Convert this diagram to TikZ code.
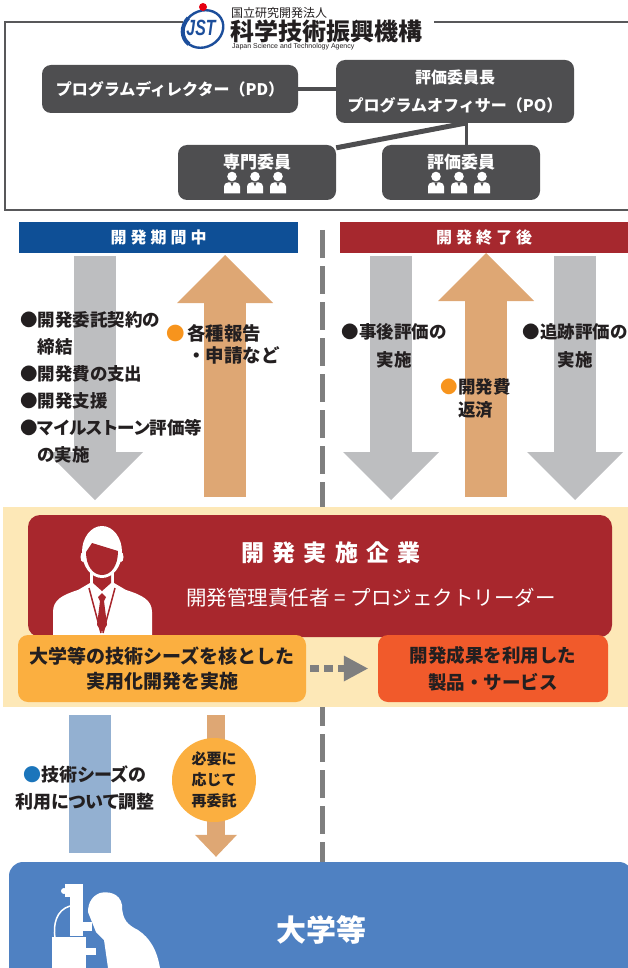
\documentclass[tikz,border=0pt]{standalone}
\usepackage{fontspec}
\setmainfont{Noto Sans CJK JP}
\newfontfamily\latinfont{Liberation Sans}
\usetikzlibrary{arrows.meta}

\definecolor{boxgray}{HTML}{4E4E50}
\definecolor{framegray}{HTML}{58585A}
\definecolor{jstblue}{HTML}{1C4E9B}
\definecolor{jstred}{HTML}{E60012}
\definecolor{periodblue}{HTML}{0E4F96}
\definecolor{afterred}{HTML}{A6282E}
\definecolor{arrowgray}{HTML}{BDBEC0}
\definecolor{arrowtan}{HTML}{DEA774}
\definecolor{dashgray}{HTML}{7F7F7F}
\definecolor{bandyellow}{HTML}{FDE8B7}
\definecolor{firmred}{HTML}{A8272D}
\definecolor{seedorange}{HTML}{FBAF40}
\definecolor{productorange}{HTML}{F15A2B}
\definecolor{barblue}{HTML}{93B0D1}
\definecolor{uniblue}{HTML}{4F81C2}
\definecolor{textdark}{HTML}{231F20}
\definecolor{dotorange}{HTML}{F7941D}
\definecolor{dotblue}{HTML}{1B75BB}

\tikzset{
    orgbox/.style={fill=boxgray, rounded corners=9pt, inner sep=0pt, text=white,
        align=center, font=\fontsize{16}{28}\selectfont\bfseries},
    orgline/.style={draw=boxgray, line width=4pt},
    header/.style={inner sep=0pt, minimum height=31pt, text=white,
        font=\fontsize{16}{20}\selectfont\bfseries\addfontfeature{LetterSpace=25}},
    fatarrow/.style={line width=42pt, -{Triangle[length=48pt,width=96pt,line width=0pt]}},
    note/.style={inner sep=0pt, text=textdark,
        font=\fontsize{17.5}{27}\selectfont\bfseries\addfontfeature{RawFeature=+palt}},
    member/.pic={
        \fill[white] (0,-6) circle (4.8);
        \fill[white] (-8,11) [rounded corners=4pt]-- (-8,0) -- (8,0) [sharp corners]-- (8,11) -- cycle;
        \fill[boxgray] (-1.6,0) -- (0,4) -- (1.6,0) -- cycle;
    },
}

\begin{document}
\begin{tikzpicture}[x=1pt, y=-1pt]
    \useasboundingbox (0,0) rectangle (628,968);
    \clip (0,0) rectangle (628,968);

    % Frame round the agency, open where the logo sits
    \draw[framegray, line width=2.5pt] (183,22) -- (5,22) -- (5,210) -- (640,210);
    \draw[framegray, line width=2.5pt] (434,22) -- (640,22);

    % Logo
    \fill[white] (185,4) rectangle (226,52);
    \draw[jstblue, line width=2.4pt, rotate around={30:(203,29)}] (203,29) ellipse (21 and 18);
    \draw[jstblue, line width=4pt, rotate around={30:(203,29)}] (203,29) ++(160:21 and 18) arc (160:250:21 and 18);
    \node[inner sep=0pt, xscale=0.72, text=jstblue, font=\latinfont\fontsize{22}{22}\selectfont\bfseries\itshape] (jst) at (201,28) {JST};
    \fill[jstred] (203,7) circle (4);
    \node[anchor=west, inner sep=0pt, text=textdark, font=\fontsize{12}{12}\selectfont] (jstkind) at (231,13) {国立研究開発法人};
    \node[anchor=west, inner sep=0pt, text=textdark, font=\fontsize{24}{24}\selectfont\bfseries] (jstname) at (230,31) {科学技術振興機構};
    \node[anchor=west, inner sep=0pt, text=textdark, font=\latinfont\fontsize{7}{7}\selectfont] (jsten) at (232,47) {Japan Science and Technology Agency};

    % Programme officers
    \node[orgbox, minimum width=256pt, minimum height=48pt] (pd) at (170,89) {プログラムディレクター（PD）};
    \node[orgbox, minimum width=238pt, minimum height=63pt] (po) at (455,91.5) {評価委員長\\プログラムオフィサー（PO）};
    \node[orgbox, minimum width=158pt, minimum height=55pt] (senmon) at (257,172.5) {};
    \node[orgbox, minimum width=158pt, minimum height=55pt] (hyoka) at (461,172.5) {};
    \node[inner sep=0pt, text=white, font=\fontsize{17}{17}\selectfont\bfseries] at ([yshift=10pt]senmon.center) {専門委員};
    \node[inner sep=0pt, text=white, font=\fontsize{17}{17}\selectfont\bfseries] at ([yshift=10pt]hyoka.center) {評価委員};
    \foreach \dx in {-25,-2,21} {
        \pic at ([xshift=\dx pt, yshift=-10pt]senmon.center) {member};
        \pic at ([xshift=\dx pt, yshift=-10pt]hyoka.center) {member};
    }

    \coordinate (split) at (466,123);
    \draw[orgline] (pd.east) -- (pd.east -| po.west);
    \draw[orgline, line width=3pt] (split) -- (split |- hyoka.north);
    \draw[orgline, line width=5pt] (split) -- ([yshift=-3pt]senmon.north east);

    % Period headers
    \node[header, fill=periodblue, minimum width=279pt] (during) at (158.5,237.5) {開発期間中};
    \node[header, fill=afterred, minimum width=288pt] (after) at (484,237.5) {開発終了後};

    % Divider between the periods
    \draw[dashgray, line width=5pt, dash pattern=on 28pt off 8pt] (322,230) -- (322,862);

    % Flows between the agency and the company
    \draw[fatarrow, arrowgray] (95,256) -- (95,500);
    \draw[fatarrow, arrowtan] (225,497) -- (225,255);
    \draw[fatarrow, arrowgray] (391,256) -- (391,500);
    \draw[fatarrow, arrowtan] (486,497) -- (486,253);
    \draw[fatarrow, arrowgray] (575,256) -- (575,500);

    \node[note, anchor=west, align=left] (tasks) at (20,387.5)
        {●開発委託契約の\\\phantom{●}締結\\●開発費の支出\\●開発支援\\●マイルストーン評価等\\\phantom{●}の実施};
    \node[note, anchor=west, align=left, font=\fontsize{18.5}{22}\selectfont\bfseries] (reports) at (187,344.5)
        {\llap{\textcolor{dotorange}{●}\hspace{2pt}}各種報告\\・申請など};
    \node[note, align=center, font=\fontsize{17.5}{28}\selectfont\bfseries] (posteval) at (394,346) {●事後評価の\\実施};
    \node[note, align=center, font=\fontsize{17.5}{28}\selectfont\bfseries] (followeval) at (575,346) {●追跡評価の\\実施};
    \node[note, anchor=west, align=left, font=\fontsize{17.5}{23}\selectfont\bfseries] (repay) at (458,398.5)
        {\llap{\textcolor{dotorange}{●}}開発費\\返済};

    % Company
    \fill[bandyellow] (3,507) rectangle (640,707);
    \node[fill=firmred, rounded corners=12pt, minimum width=584pt, minimum height=122pt] (firm) at (320,576) {};

    % Project leader
    \fill[white] (53,640) -- (53,612) .. controls (53,600) and (62,595) .. (78,590) -- (90,583) -- (114,583) -- (126,590) .. controls (142,595) and (152,600) .. (152,612) -- (152,640) -- cycle;
    \fill[white] (90,566) rectangle (114,588);
    \fill[firmred] (93,566) -- (93,583) -- (102,591) -- (111,583) -- (111,566) -- cycle;
    \fill[white] (102,552) ellipse (20 and 26);
    \fill[white] (83,557) ellipse (2.5 and 5);
    \fill[white] (121,557) ellipse (2.5 and 5);
    \fill[firmred] (86,552) -- (92,543) -- (118,551) .. controls (118,566) and (111,575) .. (102,575) .. controls (93,575) and (86,566) .. (86,552) -- cycle;
    \draw[firmred, line width=1.5pt] (89,588) -- (101,633) (115,588) -- (103,633);
    \fill[firmred] (102,593) -- (98,597) -- (100,601) -- (97,625) -- (102,632) -- (107,625) -- (104,601) -- (106,597) -- cycle;

    \node[inner sep=0pt, text=white, font=\fontsize{23}{23}\selectfont\bfseries\addfontfeature{LetterSpace=35}] (firmname) at (331,553) {開発実施企業};
    \node[inner sep=0pt, text=white, font=\fontsize{20.5}{20.5}\selectfont] (leader) at (371,598) {開発管理責任者 = プロジェクトリーダー};

    \node[fill=seedorange, rounded corners=10pt, minimum width=288pt, minimum height=67pt, inner sep=0pt,
        text=textdark, align=center, font=\fontsize{19}{25}\selectfont\bfseries] (seeds) at (162,668.5)
        {大学等の技術シーズを核とした\\実用化開発を実施};
    \node[fill=productorange, rounded corners=10pt, minimum width=230pt, minimum height=67pt, inner sep=0pt,
        text=textdark, align=center, font=\fontsize{18.5}{27}\selectfont\bfseries] (product) at (493,668.5)
        {開発成果を利用した\\製品・サービス};
    \draw[dashgray, line width=7pt, dash pattern=on 9pt off 5pt, shorten <=4pt, shorten >=10pt,
        -{Triangle[length=24pt,width=26pt,line width=0pt]}] (seeds) -- (product);

    % University side
    \fill[barblue] (69,715) rectangle (111,853);
    \coordinate (resubtop) at (216,715);
    \node[fill=uniblue, rounded corners=14pt, minimum width=624pt, minimum height=136pt, inner sep=0pt,
        text=white, font=\fontsize{30}{30}\selectfont\bfseries] (uni) at (321,930) {大学等};
    \draw[line width=18pt, arrowtan, shorten >=5pt,
        -{Triangle[length=22pt,width=42pt,line width=0pt]}] (resubtop) -- (resubtop |- uni.north);
    \node[circle, fill=seedorange, minimum size=84pt, inner sep=0pt, align=center, text=textdark,
        font=\fontsize{15}{21}\selectfont\bfseries] (resub) at (214,780) {必要に\\応じて\\再委託};
    \node[note, align=center, font=\fontsize{18}{27}\selectfont\bfseries\addfontfeature{RawFeature=+palt}] (coord) at (85,788.5)
        {\textcolor{dotblue}{●}技術シーズの\\利用について調整};

    % Researcher at the microscope
    \fill[white] (65,884) rectangle (83,897);
    \fill[white] (64,891) circle (3);
    \fill[white] (70,897) rectangle (83,936);
    \fill[white] (72,922) rectangle (92,931);
    \draw[white, line width=1.5pt] (70,906) .. controls (56,910) and (53,925) .. (55,938);
    \fill[white] (52,937) rectangle (86,968);
    \fill[white] (80,948) rectangle (96,955);
    \fill[white] (122,905) .. controls (120,893) and (108,891) .. (100,893) .. controls (92,896) and (88,903) .. (88,912) -- (92,922) -- (96,932) -- (104,940) -- (108,968) -- (160,968) .. controls (157,950) and (150,938) .. (138,930) .. controls (128,925) and (122,920) .. (122,905) -- cycle;
\end{tikzpicture}
\end{document}
